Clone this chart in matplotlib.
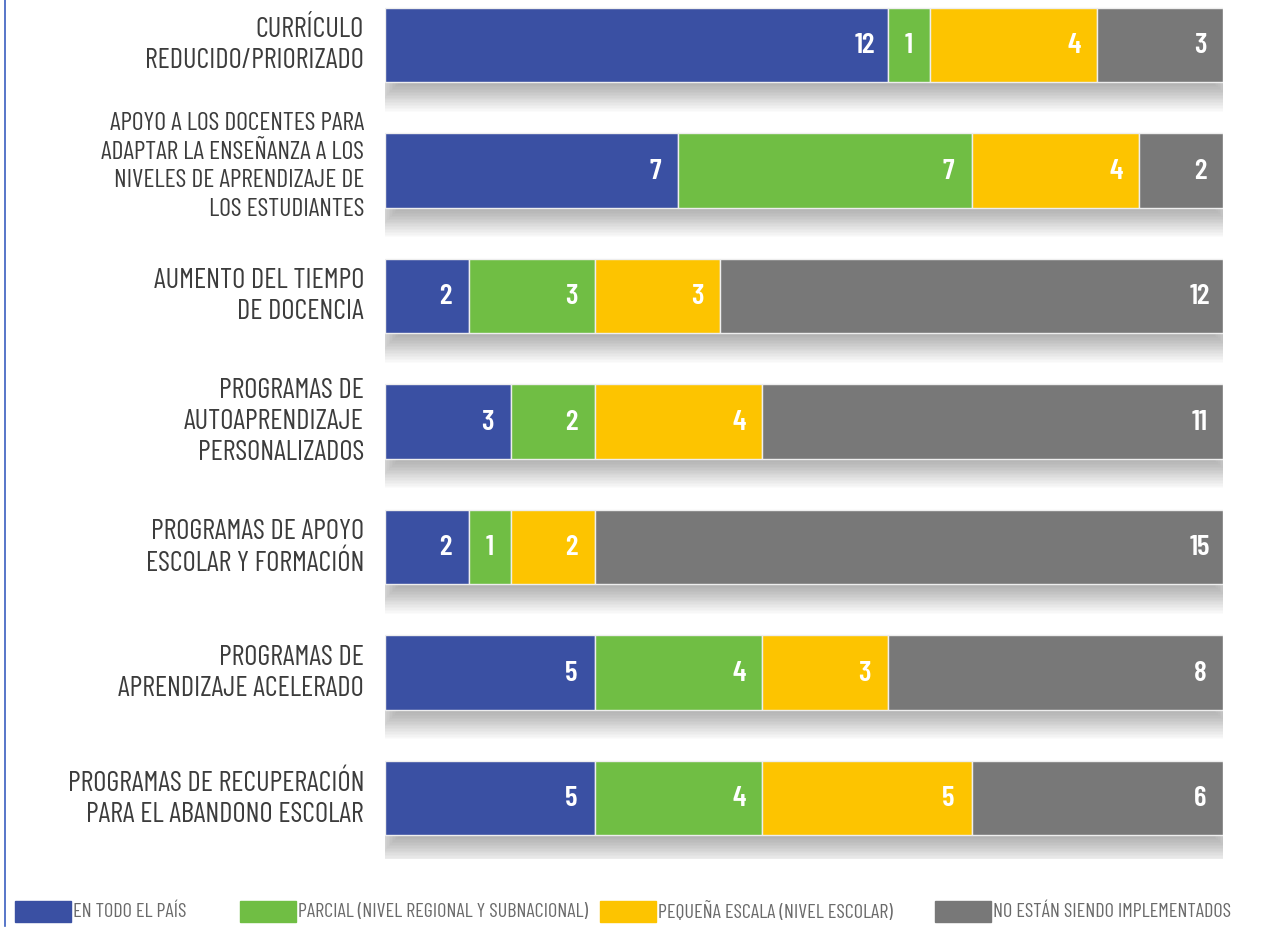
import matplotlib
matplotlib.use("Agg")
import matplotlib.pyplot as plt
from matplotlib.patches import Rectangle
from matplotlib.lines import Line2D
import numpy as np

LAB_FONT = ["Barlow Condensed", "DejaVu Sans"]

categories = [
    "CURRÍCULO\nREDUCIDO/PRIORIZADO",
    "APOYO A LOS DOCENTES PARA\nADAPTAR LA ENSEÑANZA A LOS\nNIVELES DE APRENDIZAJE DE\nLOS ESTUDIANTES",
    "AUMENTO DEL TIEMPO\nDE DOCENCIA",
    "PROGRAMAS DE\nAUTOAPRENDIZAJE\nPERSONALIZADOS",
    "PROGRAMAS DE APOYO\nESCOLAR Y FORMACIÓN",
    "PROGRAMAS DE\nAPRENDIZAJE ACELERADO",
    "PROGRAMAS DE RECUPERACIÓN\nPARA EL ABANDONO ESCOLAR",
]
todo_pais = [12, 7, 2, 3, 2, 5, 5]
parcial = [1, 7, 3, 2, 1, 4, 4]
pequena = [4, 4, 3, 4, 2, 3, 5]
no_impl = [3, 2, 12, 11, 15, 8, 6]

series_names = [
    "EN TODO EL PAÍS",
    "PARCIAL (NIVEL REGIONAL Y SUBNACIONAL)",
    "PEQUEÑA ESCALA (NIVEL ESCOLAR)",
    "NO ESTÁN SIENDO IMPLEMENTADOS",
]
colors = ["#3a50a3", "#70be44", "#fdc400", "#787878"]

W, H = 1276, 929
fig = plt.figure(figsize=(W / 100, H / 100), dpi=100)
fig.patch.set_facecolor("white")

# axes placed in pixel terms
top_px, bot_px = 0, 860
ax = fig.add_axes([385 / W, 1 - bot_px / H, 838 / W, (bot_px - top_px) / H])
step, c0 = 125.5, 46
ax.set_ylim((bot_px - c0) / step, (top_px - c0) / step)
ax.set_xlim(0, 20)
ax.axis("off")

y = np.arange(len(categories))
data = [todo_pais, parcial, pequena, no_impl]
totals = np.array([sum(r) for r in zip(*data)])
h = 0.59

# soft drop shadow that grows downward and sideways
for k in range(20):
    top = y - h / 2 + 0.04
    bottom = y + h / 2 + 0.02 + 0.0115 * k
    ax.barh((top + bottom) / 2, totals - 0.5 + 0.075 * k, left=0.3 - 0.035 * k,
            height=bottom - top, color="#000000", alpha=0.014, linewidth=0, zorder=1)

left = np.zeros(len(categories))
for vals, col in zip(data, colors):
    vals = np.array(vals)
    ax.barh(y, vals, left=left, height=h, color=col, edgecolor="#eeeeee",
            linewidth=1.0, zorder=2)
    for yi, l, v in zip(y, left, vals):
        end = l + v
        xt = max(l + v / 2, end - 0.55)
        ax.text(xt, yi, str(v), ha="center", va="center", color="white",
                fontsize=21, fontweight="semibold", family=LAB_FONT, zorder=3)
    left += vals

for yi, lab in zip(y, categories):
    four = lab.count("\n") == 3
    ax.text(-0.5, yi - (0.04 if four else 0), lab, ha="right", va="center",
            fontsize=18.5 if four else 20.5, color="#3c3c3c",
            family=LAB_FONT, linespacing=1.3 if four else 1.25, zorder=3)

# left border line
fig.add_artist(Line2D([5 / W, 5 / W], [1 - 927 / H, 1.0], color="#3b5fc0", linewidth=1.2))

# legend
leg_x = [15, 240, 600, 935]
ly = 912
for xp, name, col in zip(leg_x, series_names, colors):
    fig.add_artist(Rectangle((xp / W, 1 - (ly + 11) / H), 56 / W, 21 / H,
                             transform=fig.transFigure, color=col))
    fig.text((xp + 58) / W, 1 - ly / H, name, ha="left", va="center",
             fontsize=14.5, color="#6a6a6a", family=LAB_FONT)

fig.savefig("out.png", dpi=100, facecolor="white")
